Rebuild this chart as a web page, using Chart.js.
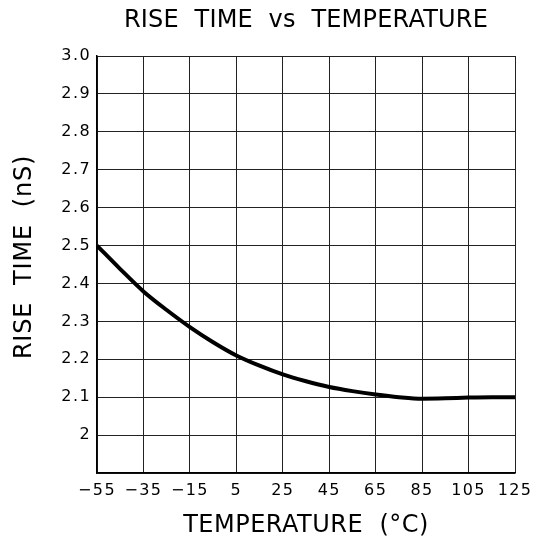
<!DOCTYPE html>
<html><head><meta charset="utf-8">
<script src="https://cdn.jsdelivr.net/npm/chart.js@4"></script>
<style>html,body{margin:0;padding:0;background:#fff;}#wrap{width:544px;height:541px;}</style>
</head><body><div id="wrap"><canvas id="c" width="544" height="541"></canvas></div>
<script>
const temperatures = [-55, -45, -35, -25, -15, -5, 5, 15, 25, 35, 45, 55, 65, 75, 85, 95, 105, 115, 125];
const riseTime = [2.5, 2.438, 2.379, 2.33, 2.285, 2.245, 2.21, 2.183, 2.16, 2.142, 2.127, 2.116, 2.107, 2.100, 2.096, 2.097, 2.099, 2.1, 2.1];
const xTicks = [-55, -35, -15, 5, 25, 45, 65, 85, 105, 125];
const yTickValues = [1.9, 2.0, 2.1, 2.2, 2.3, 2.4, 2.5, 2.6, 2.7, 2.8, 2.9, 3.0];
const yTickLabels = ['', '2', '2.1', '2.2', '2.3', '2.4', '2.5', '2.6', '2.7', '2.8', '2.9', '3.0'];
const titleText = 'RISE  TIME  vs  TEMPERATURE';
const xTitle = 'TEMPERATURE  (°C)';
const yTitle = 'RISE  TIME  (nS)';

const FONT = "'DejaVu Sans', sans-serif";
const TICK_SPACING = '1.4px';
const textPlugin = {
  id: 'texts',
  beforeLayout(chart) { chart.ctx.letterSpacing = TICK_SPACING; },
  beforeDraw(chart) { chart.ctx.letterSpacing = TICK_SPACING; },
  afterDraw(chart) {
    const ctx = chart.ctx;
    const area = chart.chartArea;
    ctx.save();
    ctx.fillStyle = '#000';
    ctx.textAlign = 'center';
    ctx.textBaseline = 'middle';
    ctx.font = "24px " + FONT;
    ctx.letterSpacing = '0.2px';
    ctx.fillText(titleText, (area.left + area.right) / 2, 21);
    ctx.letterSpacing = '0.5px';
    ctx.fillText(xTitle, (area.left + area.right) / 2, 526);
    ctx.translate(25, 257);
    ctx.rotate(-Math.PI / 2);
    ctx.letterSpacing = '0.8px';
    ctx.fillText(yTitle, 0, 0);
    ctx.restore();
  }
};

new Chart(document.getElementById('c'), {
  type: 'line',
  data: {
    datasets: [{
      data: temperatures.map((t, i) => ({x: t, y: riseTime[i]})),
      borderColor: '#000',
      borderWidth: 4,
      pointRadius: 0,
      tension: 0.4,
      cubicInterpolationMode: 'monotone',
      fill: false
    }]
  },
  options: {
    responsive: false,
    animation: false,
    devicePixelRatio: 1,
    layout: {padding: {left: 0, right: 29, top: 56, bottom: 0}},
    plugins: {
      legend: {display: false},
      tooltip: {enabled: false},
      title: {display: false}
    },
    scales: {
      x: {
        type: 'linear', min: -55, max: 125,
        afterBuildTicks(s) { s.ticks = xTicks.map(v => ({value: v})); },
        afterFit(s) { s.height = 68; },
        ticks: {
          color: '#000', font: {family: FONT, size: 16},
          padding: 8, maxRotation: 0, autoSkip: false,
          callback: v => String(v).replace('-', '\u2212')
        },
        grid: {color: '#222', lineWidth: 1, drawTicks: false},
        border: {color: '#000', width: 1.5},
        title: {display: false}
      },
      y: {
        type: 'linear', min: 1.9, max: 3.0,
        afterBuildTicks(s) { s.ticks = yTickValues.map(v => ({value: v})); },
        afterFit(s) { s.width = 97; },
        ticks: {
          color: '#000', font: {family: FONT, size: 16}, padding: 6, autoSkip: false,
          callback: (v, i) => yTickLabels[i]
        },
        grid: {color: '#222', lineWidth: 1, drawTicks: false},
        border: {color: '#000', width: 1.5}
      }
    }
  },
  plugins: [textPlugin]
});
</script></body></html>
